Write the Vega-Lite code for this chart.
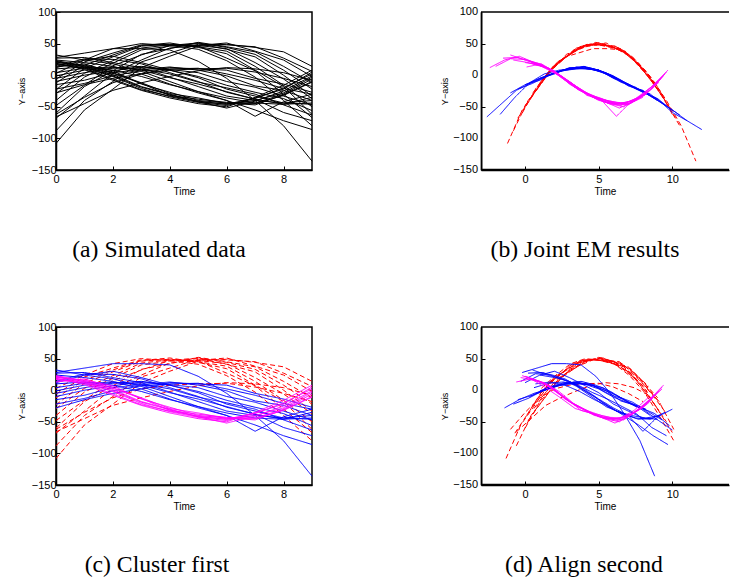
{
"$schema": "https://vega.github.io/schema/vega-lite/v6.json",
"background": "white",
"padding": {"left": 16, "top": 5, "right": 0, "bottom": 0},
"bounds": "flush",
"spacing": 425,
"resolve": {"scale": {"x": "independent", "y": "independent", "color": "independent", "strokeDash": "independent"}},
"config": {
  "view": {"stroke": "black", "strokeWidth": 1.5},
  "axis": {"grid": false, "domain": true, "domainColor": "black", "domainWidth": 1.5, "tickColor": "black", "tickSize": -4, "tickWidth": 1,
    "labelFont": "Liberation Sans", "labelFontSize": 11, "labelColor": "black", "labelPadding": 4,
    "labelFlush": false, "labelOverlap": false, "labelBound": false,
    "titleFont": "Liberation Sans", "titleFontSize": 10, "titleFontWeight": "normal", "titleColor": "black"},
  "axisX": {"titlePadding": 2, "labelPadding": 7},
  "axisY": {"titlePadding": 5, "titleFontSize": 9},
  "title": {"font": "Liberation Serif", "fontSize": 23.7, "fontWeight": "normal", "color": "black", "orient": "bottom", "frame": "group", "anchor": "middle", "offset": 42}
},
"datasets": {
"ylabels": [
{"v":100,"lab":"100"},{"v":50,"lab":"50"},{"v":0,"lab":"0"},{"v":-50,"lab":"−50"},{"v":-100,"lab":"−100"},{"v":-150,"lab":"−150"}
],
"curves": [
{"c":"r1","kc":"r","kb":"r","kd":"r"},{"c":"r2","kc":"r","kb":"r","kd":"r"},{"c":"r3","kc":"r","kb":"r","kd":"r"},{"c":"r4","kc":"r","kb":"r","kd":"r"},{"c":"r5","kc":"r","kb":"r","kd":"r"},{"c":"r6","kc":"r","kb":"r","kd":"r"},{"c":"r7","kc":"r","kb":"r","kd":"r"},{"c":"r8","kc":"r","kb":"r","kd":"r"},{"c":"r9","kc":"r","kb":"r","kd":"r"},{"c":"r10","kc":"r","kb":"r","kd":"r"},{"c":"r11","kc":"r","kb":"r","kd":"r"},
{"c":"x1","kc":"r","kb":"b","kd":"r"},{"c":"x2","kc":"r","kb":"b","kd":"r"},{"c":"r12","kc":"b","kb":"r","kd":"b"},
{"c":"b1","kc":"b","kb":"b","kd":"b"},{"c":"b2","kc":"b","kb":"b","kd":"b"},{"c":"b3","kc":"b","kb":"b","kd":"b"},{"c":"b4","kc":"b","kb":"b","kd":"b"},{"c":"b5","kc":"b","kb":"b","kd":"b"},{"c":"b6","kc":"b","kb":"b","kd":"b"},{"c":"b7","kc":"b","kb":"b","kd":"b"},{"c":"b8","kc":"b","kb":"b","kd":"b"},
{"c":"u1","kc":"b","kb":"m","kd":"b"},{"c":"u2","kc":"b","kb":"m","kd":"b"},{"c":"u3","kc":"b","kb":"m","kd":"b"},{"c":"u4","kc":"b","kb":"m","kd":"b"},{"c":"nb","kc":"b","kb":"m","kd":"b"},
{"c":"m1","kc":"m","kb":"m","kd":"m"},{"c":"m2","kc":"m","kb":"m","kd":"m"},{"c":"m3","kc":"m","kb":"m","kd":"m"},{"c":"m4","kc":"m","kb":"m","kd":"m"},{"c":"m5","kc":"m","kb":"m","kd":"m"},{"c":"m6","kc":"m","kb":"m","kd":"m"},{"c":"m7","kc":"m","kb":"m","kd":"m"},{"c":"m8","kc":"m","kb":"m","kd":"m"}
],
"pts": [
{"c":"r1","t":0,"y":-108,"xb":-1.2,"xd":-1.3},{"c":"r1","t":1,"y":-55,"xb":-0.2,"xd":-0.3},{"c":"r1","t":2,"y":-22,"xb":0.8,"xd":0.7},{"c":"r1","t":3,"y":12,"xb":1.8,"xd":1.7},{"c":"r1","t":4,"y":30,"xb":2.8,"xd":2.7},{"c":"r1","t":5,"y":46,"xb":3.8,"xd":3.7},{"c":"r1","t":6,"y":49,"xb":4.8,"xd":4.7},{"c":"r1","t":7,"y":44,"xb":5.8,"xd":5.7},{"c":"r1","t":8,"y":37,"xb":6.8,"xd":6.7},{"c":"r1","t":9,"y":14,"xb":7.8,"xd":7.7},
{"c":"r2","t":0,"y":-88,"xb":-0.8,"xd":-0.6},{"c":"r2","t":1,"y":-40,"xb":0.2,"xd":0.4},{"c":"r2","t":2,"y":-10,"xb":1.2,"xd":1.4},{"c":"r2","t":3,"y":21,"xb":2.2,"xd":2.4},{"c":"r2","t":4,"y":35,"xb":3.2,"xd":3.4},{"c":"r2","t":5,"y":49,"xb":4.2,"xd":4.4},{"c":"r2","t":6,"y":48,"xb":5.2,"xd":5.4},{"c":"r2","t":7,"y":45,"xb":6.2,"xd":6.4},{"c":"r2","t":8,"y":27,"xb":7.2,"xd":7.4},{"c":"r2","t":9,"y":6,"xb":8.2,"xd":8.4},
{"c":"r3","t":0,"y":-68,"xb":-0.5,"xd":-0.7},{"c":"r3","t":1,"y":-33,"xb":0.5,"xd":0.3},{"c":"r3","t":2,"y":3,"xb":1.5,"xd":1.3},{"c":"r3","t":3,"y":24,"xb":2.5,"xd":2.3},{"c":"r3","t":4,"y":43,"xb":3.5,"xd":3.3},{"c":"r3","t":5,"y":47,"xb":4.5,"xd":4.3},{"c":"r3","t":6,"y":51,"xb":5.5,"xd":5.3},{"c":"r3","t":7,"y":38,"xb":6.5,"xd":6.3},{"c":"r3","t":8,"y":24,"xb":7.5,"xd":7.3},{"c":"r3","t":9,"y":-2,"xb":8.5,"xd":8.3},
{"c":"r4","t":0,"y":-60,"xb":-0.2,"xd":0},{"c":"r4","t":1,"y":-18,"xb":0.8,"xd":1},{"c":"r4","t":2,"y":7,"xb":1.8,"xd":2},{"c":"r4","t":3,"y":33,"xb":2.8,"xd":3},{"c":"r4","t":4,"y":42,"xb":3.8,"xd":4},{"c":"r4","t":5,"y":52,"xb":4.8,"xd":5},{"c":"r4","t":6,"y":45,"xb":5.8,"xd":6},{"c":"r4","t":7,"y":37,"xb":6.8,"xd":7},{"c":"r4","t":8,"y":14,"xb":7.8,"xd":8},{"c":"r4","t":9,"y":-12,"xb":8.8,"xd":9},
{"c":"r5","t":0,"y":-48,"xb":0,"xd":0.2},{"c":"r5","t":1,"y":-16,"xb":1,"xd":1.2},{"c":"r5","t":2,"y":15,"xb":2,"xd":2.2},{"c":"r5","t":3,"y":32,"xb":3,"xd":3.2},{"c":"r5","t":4,"y":47,"xb":4,"xd":4.2},{"c":"r5","t":5,"y":51,"xb":5,"xd":5.2},{"c":"r5","t":6,"y":44,"xb":6,"xd":6.2},{"c":"r5","t":7,"y":33,"xb":7,"xd":7.2},{"c":"r5","t":8,"y":8,"xb":8,"xd":8.2},{"c":"r5","t":9,"y":-22,"xb":9,"xd":9.2},
{"c":"r6","t":0,"y":-40,"xb":0.3,"xd":0.1},{"c":"r6","t":1,"y":-3,"xb":1.3,"xd":1.1},{"c":"r6","t":2,"y":19,"xb":2.3,"xd":2.1},{"c":"r6","t":3,"y":40,"xb":3.3,"xd":3.1},{"c":"r6","t":4,"y":46,"xb":4.3,"xd":4.1},{"c":"r6","t":5,"y":50,"xb":5.3,"xd":5.1},{"c":"r6","t":6,"y":41,"xb":6.3,"xd":6.1},{"c":"r6","t":7,"y":29,"xb":7.3,"xd":7.1},{"c":"r6","t":8,"y":0,"xb":8.3,"xd":8.1},{"c":"r6","t":9,"y":-33,"xb":9.3,"xd":9.1},
{"c":"r7","t":0,"y":-29,"xb":0.5,"xd":0.6},{"c":"r7","t":1,"y":3,"xb":1.5,"xd":1.6},{"c":"r7","t":2,"y":23,"xb":2.5,"xd":2.6},{"c":"r7","t":3,"y":43,"xb":3.5,"xd":3.6},{"c":"r7","t":4,"y":48,"xb":4.5,"xd":4.6},{"c":"r7","t":5,"y":47,"xb":5.5,"xd":5.6},{"c":"r7","t":6,"y":42,"xb":6.5,"xd":6.6},{"c":"r7","t":7,"y":20,"xb":7.5,"xd":7.6},{"c":"r7","t":8,"y":-6,"xb":8.5,"xd":8.6},{"c":"r7","t":9,"y":-37,"xb":9.5,"xd":9.6},
{"c":"r8","t":0,"y":-23,"xb":0.8,"xd":0.6},{"c":"r8","t":1,"y":11,"xb":1.8,"xd":1.6},{"c":"r8","t":2,"y":29,"xb":2.8,"xd":2.6},{"c":"r8","t":3,"y":46,"xb":3.8,"xd":3.6},{"c":"r8","t":4,"y":49,"xb":4.8,"xd":4.6},{"c":"r8","t":5,"y":45,"xb":5.8,"xd":5.6},{"c":"r8","t":6,"y":38,"xb":6.8,"xd":6.6},{"c":"r8","t":7,"y":14,"xb":7.8,"xd":7.6},{"c":"r8","t":8,"y":-16,"xb":8.8,"xd":8.6},{"c":"r8","t":9,"y":-50,"xb":9.8,"xd":9.6},
{"c":"r9","t":0,"y":-12,"xb":1,"xd":1.1},{"c":"r9","t":1,"y":16,"xb":2,"xd":2.1},{"c":"r9","t":2,"y":32,"xb":3,"xd":3.1},{"c":"r9","t":3,"y":47,"xb":4,"xd":4.1},{"c":"r9","t":4,"y":51,"xb":5,"xd":5.1},{"c":"r9","t":5,"y":44,"xb":6,"xd":6.1},{"c":"r9","t":6,"y":34,"xb":7,"xd":7.1},{"c":"r9","t":7,"y":8,"xb":8,"xd":8.1},{"c":"r9","t":8,"y":-18,"xb":9,"xd":9.1},{"c":"r9","t":9,"y":-62,"xb":10,"xd":10.1},
{"c":"r10","t":0,"y":-6,"xb":1.2,"xd":1},{"c":"r10","t":1,"y":21,"xb":2.2,"xd":2},{"c":"r10","t":2,"y":35,"xb":3.2,"xd":3},{"c":"r10","t":3,"y":48,"xb":4.2,"xd":4},{"c":"r10","t":4,"y":48,"xb":5.2,"xd":5},{"c":"r10","t":5,"y":46,"xb":6.2,"xd":6},{"c":"r10","t":6,"y":27,"xb":7.2,"xd":7},{"c":"r10","t":7,"y":7,"xb":8.2,"xd":8},{"c":"r10","t":8,"y":-30,"xb":9.2,"xd":9},{"c":"r10","t":9,"y":-67,"xb":10.2,"xd":10},
{"c":"r11","t":0,"y":3,"xb":1.5,"xd":1.1},{"c":"r11","t":1,"y":24,"xb":2.5,"xd":2.1},{"c":"r11","t":2,"y":42,"xb":3.5,"xd":3.1},{"c":"r11","t":3,"y":50,"xb":4.5,"xd":4.1},{"c":"r11","t":4,"y":47,"xb":5.5,"xd":5.1},{"c":"r11","t":5,"y":41,"xb":6.5,"xd":6.1},{"c":"r11","t":6,"y":23,"xb":7.5,"xd":7.1},{"c":"r11","t":7,"y":-3,"xb":8.5,"xd":8.1},{"c":"r11","t":8,"y":-40,"xb":9.5,"xd":9.1},{"c":"r11","t":9,"y":-80,"xb":10.5,"xd":10.1},
{"c":"x1","t":0,"y":-62,"xb":-1.7,"xd":-1},{"c":"x1","t":1,"y":-35,"xb":-0.7,"xd":0},{"c":"x1","t":2,"y":-12,"xb":0.3,"xd":1},{"c":"x1","t":3,"y":2,"xb":1.3,"xd":2},{"c":"x1","t":4,"y":8,"xb":2.3,"xd":3},{"c":"x1","t":5,"y":10,"xb":3.3,"xd":4},{"c":"x1","t":6,"y":11,"xb":4.3,"xd":5},{"c":"x1","t":7,"y":5,"xb":5.3,"xd":6},{"c":"x1","t":8,"y":-5,"xb":6.3,"xd":7},{"c":"x1","t":9,"y":-18,"xb":7.3,"xd":8},
{"c":"x2","t":0,"y":-66,"xb":-2.6,"xd":-0.6},{"c":"x2","t":1,"y":-45,"xb":-1.6,"xd":0.4},{"c":"x2","t":2,"y":-24,"xb":-0.6,"xd":1.4},{"c":"x2","t":3,"y":-12,"xb":0.4,"xd":2.4},{"c":"x2","t":4,"y":-2,"xb":1.4,"xd":3.4},{"c":"x2","t":5,"y":7,"xb":2.4,"xd":4.4},{"c":"x2","t":6,"y":12,"xb":3.4,"xd":5.4},{"c":"x2","t":7,"y":10,"xb":4.4,"xd":6.4},{"c":"x2","t":8,"y":4,"xb":5.4,"xd":7.4},{"c":"x2","t":9,"y":-8,"xb":6.4,"xd":8.4},
{"c":"r12","t":0,"y":28,"xb":2.6,"xd":-0.2},{"c":"r12","t":1,"y":35,"xb":3.6,"xd":0.8},{"c":"r12","t":2,"y":42,"xb":4.6,"xd":1.8},{"c":"r12","t":3,"y":42,"xb":5.6,"xd":2.8},{"c":"r12","t":4,"y":40,"xb":6.6,"xd":3.8},{"c":"r12","t":5,"y":22,"xb":7.6,"xd":4.8},{"c":"r12","t":6,"y":-5,"xb":8.6,"xd":5.8},{"c":"r12","t":7,"y":-40,"xb":9.6,"xd":6.8},{"c":"r12","t":8,"y":-80,"xb":10.6,"xd":7.8},{"c":"r12","t":9,"y":-136,"xb":11.6,"xd":8.8},
{"c":"b1","t":0,"y":-28,"xb":-1,"xd":-1.4},{"c":"b1","t":1,"y":-15,"xb":0,"xd":-0.4},{"c":"b1","t":2,"y":-5,"xb":1,"xd":0.6},{"c":"b1","t":3,"y":2,"xb":2,"xd":1.6},{"c":"b1","t":4,"y":12,"xb":3,"xd":2.6},{"c":"b1","t":5,"y":10,"xb":4,"xd":3.6},{"c":"b1","t":6,"y":8,"xb":5,"xd":4.6},{"c":"b1","t":7,"y":-5,"xb":6,"xd":5.6},{"c":"b1","t":8,"y":-14,"xb":7,"xd":6.6},{"c":"b1","t":9,"y":-27,"xb":8,"xd":7.6},
{"c":"b2","t":0,"y":-15,"xb":0,"xd":-0.5},{"c":"b2","t":1,"y":-8,"xb":1,"xd":0.5},{"c":"b2","t":2,"y":4,"xb":2,"xd":1.5},{"c":"b2","t":3,"y":9,"xb":3,"xd":2.5},{"c":"b2","t":4,"y":13,"xb":4,"xd":3.5},{"c":"b2","t":5,"y":8,"xb":5,"xd":4.5},{"c":"b2","t":6,"y":-1,"xb":6,"xd":5.5},{"c":"b2","t":7,"y":-17,"xb":7,"xd":6.5},{"c":"b2","t":8,"y":-24,"xb":8,"xd":7.5},{"c":"b2","t":9,"y":-40,"xb":9,"xd":8.5},
{"c":"b3","t":0,"y":-10,"xb":0.5,"xd":0.3},{"c":"b3","t":1,"y":0,"xb":1.5,"xd":1.3},{"c":"b3","t":2,"y":7,"xb":2.5,"xd":2.3},{"c":"b3","t":3,"y":13,"xb":3.5,"xd":3.3},{"c":"b3","t":4,"y":9,"xb":4.5,"xd":4.3},{"c":"b3","t":5,"y":4,"xb":5.5,"xd":5.3},{"c":"b3","t":6,"y":-10,"xb":6.5,"xd":6.3},{"c":"b3","t":7,"y":-19,"xb":7.5,"xd":7.3},{"c":"b3","t":8,"y":-33,"xb":8.5,"xd":8.3},{"c":"b3","t":9,"y":-47,"xb":9.5,"xd":9.3},
{"c":"b4","t":0,"y":-5,"xb":1,"xd":0.8},{"c":"b4","t":1,"y":4,"xb":2,"xd":1.8},{"c":"b4","t":2,"y":11,"xb":3,"xd":2.8},{"c":"b4","t":3,"y":14,"xb":4,"xd":3.8},{"c":"b4","t":4,"y":8,"xb":5,"xd":4.8},{"c":"b4","t":5,"y":-2,"xb":6,"xd":5.8},{"c":"b4","t":6,"y":-16,"xb":7,"xd":6.8},{"c":"b4","t":7,"y":-27,"xb":8,"xd":7.8},{"c":"b4","t":8,"y":-37,"xb":9,"xd":8.8},{"c":"b4","t":9,"y":-56,"xb":10,"xd":9.8},
{"c":"b5","t":0,"y":-1,"xb":1.5,"xd":1},{"c":"b5","t":1,"y":8,"xb":2.5,"xd":2},{"c":"b5","t":2,"y":12,"xb":3.5,"xd":3},{"c":"b5","t":3,"y":10,"xb":4.5,"xd":4},{"c":"b5","t":4,"y":2,"xb":5.5,"xd":5},{"c":"b5","t":5,"y":-11,"xb":6.5,"xd":6},{"c":"b5","t":6,"y":-20,"xb":7.5,"xd":7},{"c":"b5","t":7,"y":-30,"xb":8.5,"xd":8},{"c":"b5","t":8,"y":-47,"xb":9.5,"xd":9},{"c":"b5","t":9,"y":-63,"xb":10.5,"xd":10},
{"c":"b6","t":0,"y":4,"xb":2,"xd":0.6},{"c":"b6","t":1,"y":11,"xb":3,"xd":1.6},{"c":"b6","t":2,"y":13,"xb":4,"xd":2.6},{"c":"b6","t":3,"y":8,"xb":5,"xd":3.6},{"c":"b6","t":4,"y":-4,"xb":6,"xd":4.6},{"c":"b6","t":5,"y":-14,"xb":7,"xd":5.6},{"c":"b6","t":6,"y":-26,"xb":8,"xd":6.6},{"c":"b6","t":7,"y":-38,"xb":9,"xd":7.6},{"c":"b6","t":8,"y":-59,"xb":10,"xd":8.6},{"c":"b6","t":9,"y":-72,"xb":11,"xd":9.6},
{"c":"b7","t":0,"y":10,"xb":3,"xd":0.7},{"c":"b7","t":1,"y":13,"xb":4,"xd":1.7},{"c":"b7","t":2,"y":8,"xb":5,"xd":2.7},{"c":"b7","t":3,"y":-2,"xb":6,"xd":3.7},{"c":"b7","t":4,"y":-15,"xb":7,"xd":4.7},{"c":"b7","t":5,"y":-26,"xb":8,"xd":5.7},{"c":"b7","t":6,"y":-40,"xb":9,"xd":6.7},{"c":"b7","t":7,"y":-55,"xb":10,"xd":7.7},{"c":"b7","t":8,"y":-72,"xb":11,"xd":8.7},{"c":"b7","t":9,"y":-86,"xb":12,"xd":9.7},
{"c":"b8","t":0,"y":-22,"xb":-0.5,"xd":-0.8},{"c":"b8","t":1,"y":-13,"xb":0.5,"xd":0.2},{"c":"b8","t":2,"y":-1,"xb":1.5,"xd":1.2},{"c":"b8","t":3,"y":7,"xb":2.5,"xd":2.2},{"c":"b8","t":4,"y":10,"xb":3.5,"xd":3.2},{"c":"b8","t":5,"y":11,"xb":4.5,"xd":4.2},{"c":"b8","t":6,"y":2,"xb":5.5,"xd":5.2},{"c":"b8","t":7,"y":-8,"xb":6.5,"xd":6.2},{"c":"b8","t":8,"y":-21,"xb":7.5,"xd":7.2},{"c":"b8","t":9,"y":-30,"xb":8.5,"xd":8.2},
{"c":"u1","t":0,"y":12,"xb":-2.4,"xd":0},{"c":"u1","t":1,"y":24,"xb":-1.4,"xd":1},{"c":"u1","t":2,"y":30,"xb":-0.4,"xd":2},{"c":"u1","t":3,"y":20,"xb":0.6,"xd":3},{"c":"u1","t":4,"y":8,"xb":1.6,"xd":4},{"c":"u1","t":5,"y":-4,"xb":2.6,"xd":5},{"c":"u1","t":6,"y":-22,"xb":3.6,"xd":6},{"c":"u1","t":7,"y":-33,"xb":4.6,"xd":7},{"c":"u1","t":8,"y":-44,"xb":5.6,"xd":8},{"c":"u1","t":9,"y":-46,"xb":6.6,"xd":9},
{"c":"u2","t":0,"y":32,"xb":-1,"xd":0.5},{"c":"u2","t":1,"y":24,"xb":0,"xd":1.5},{"c":"u2","t":2,"y":18,"xb":1,"xd":2.5},{"c":"u2","t":3,"y":6,"xb":2,"xd":3.5},{"c":"u2","t":4,"y":-10,"xb":3,"xd":4.5},{"c":"u2","t":5,"y":-26,"xb":4,"xd":5.5},{"c":"u2","t":6,"y":-36,"xb":5,"xd":6.5},{"c":"u2","t":7,"y":-44,"xb":6,"xd":7.5},{"c":"u2","t":8,"y":-46,"xb":7,"xd":8.5},{"c":"u2","t":9,"y":-35,"xb":8,"xd":9.5},
{"c":"u3","t":0,"y":27,"xb":-1.5,"xd":0.2},{"c":"u3","t":1,"y":28,"xb":-0.5,"xd":1.2},{"c":"u3","t":2,"y":20,"xb":0.5,"xd":2.2},{"c":"u3","t":3,"y":12,"xb":1.5,"xd":3.2},{"c":"u3","t":4,"y":-3,"xb":2.5,"xd":4.2},{"c":"u3","t":5,"y":-18,"xb":3.5,"xd":5.2},{"c":"u3","t":6,"y":-33,"xb":4.5,"xd":6.2},{"c":"u3","t":7,"y":-40,"xb":5.5,"xd":7.2},{"c":"u3","t":8,"y":-44,"xb":6.5,"xd":8.2},{"c":"u3","t":9,"y":-40,"xb":7.5,"xd":9.2},
{"c":"u4","t":0,"y":14,"xb":-2,"xd":-0.3},{"c":"u4","t":1,"y":26,"xb":-1,"xd":0.7},{"c":"u4","t":2,"y":25,"xb":0,"xd":1.7},{"c":"u4","t":3,"y":18,"xb":1,"xd":2.7},{"c":"u4","t":4,"y":4,"xb":2,"xd":3.7},{"c":"u4","t":5,"y":-10,"xb":3,"xd":4.7},{"c":"u4","t":6,"y":-27,"xb":4,"xd":5.7},{"c":"u4","t":7,"y":-38,"xb":5,"xd":6.7},{"c":"u4","t":8,"y":-46,"xb":6,"xd":7.7},{"c":"u4","t":9,"y":-44,"xb":7,"xd":8.7},
{"c":"nb","t":0,"y":24,"xb":-0.8,"xd":1},{"c":"nb","t":1,"y":20,"xb":0.2,"xd":2},{"c":"nb","t":2,"y":14,"xb":1.2,"xd":3},{"c":"nb","t":3,"y":2,"xb":2.2,"xd":4},{"c":"nb","t":4,"y":-14,"xb":3.2,"xd":5},{"c":"nb","t":5,"y":-28,"xb":4.2,"xd":6},{"c":"nb","t":6,"y":-40,"xb":5.2,"xd":7},{"c":"nb","t":7,"y":-65,"xb":6.2,"xd":8},{"c":"nb","t":8,"y":-42,"xb":7.2,"xd":9},{"c":"nb","t":9,"y":-30,"xb":8.2,"xd":10},
{"c":"m1","t":0,"y":20,"xb":0,"xd":-0.3},{"c":"m1","t":1,"y":16,"xb":1,"xd":0.7},{"c":"m1","t":2,"y":7,"xb":2,"xd":1.7},{"c":"m1","t":3,"y":-14,"xb":3,"xd":2.7},{"c":"m1","t":4,"y":-27,"xb":4,"xd":3.7},{"c":"m1","t":5,"y":-40,"xb":5,"xd":4.7},{"c":"m1","t":6,"y":-44,"xb":6,"xd":5.7},{"c":"m1","t":7,"y":-47,"xb":7,"xd":6.7},{"c":"m1","t":8,"y":-31,"xb":8,"xd":7.7},{"c":"m1","t":9,"y":-10,"xb":9,"xd":8.7},
{"c":"m2","t":0,"y":22,"xb":0.3,"xd":0},{"c":"m2","t":1,"y":14,"xb":1.3,"xd":1},{"c":"m2","t":2,"y":1,"xb":2.3,"xd":2},{"c":"m2","t":3,"y":-18,"xb":3.3,"xd":3},{"c":"m2","t":4,"y":-30,"xb":4.3,"xd":4},{"c":"m2","t":5,"y":-42,"xb":5.3,"xd":5},{"c":"m2","t":6,"y":-46,"xb":6.3,"xd":6},{"c":"m2","t":7,"y":-40,"xb":7.3,"xd":7},{"c":"m2","t":8,"y":-28,"xb":8.3,"xd":8},{"c":"m2","t":9,"y":-3,"xb":9.3,"xd":9},
{"c":"m3","t":0,"y":18,"xb":0.5,"xd":0.3},{"c":"m3","t":1,"y":12,"xb":1.5,"xd":1.3},{"c":"m3","t":2,"y":-2,"xb":2.5,"xd":2.3},{"c":"m3","t":3,"y":-21,"xb":3.5,"xd":3.3},{"c":"m3","t":4,"y":-34,"xb":4.5,"xd":4.3},{"c":"m3","t":5,"y":-43,"xb":5.5,"xd":5.3},{"c":"m3","t":6,"y":-48,"xb":6.5,"xd":6.3},{"c":"m3","t":7,"y":-37,"xb":7.5,"xd":7.3},{"c":"m3","t":8,"y":-20,"xb":8.5,"xd":8.3},{"c":"m3","t":9,"y":2,"xb":9.5,"xd":9.3},
{"c":"m4","t":0,"y":19,"xb":0.7,"xd":0.4},{"c":"m4","t":1,"y":9,"xb":1.7,"xd":1.4},{"c":"m4","t":2,"y":-8,"xb":2.7,"xd":2.4},{"c":"m4","t":3,"y":-24,"xb":3.7,"xd":3.4},{"c":"m4","t":4,"y":-36,"xb":4.7,"xd":4.4},{"c":"m4","t":5,"y":-45,"xb":5.7,"xd":5.4},{"c":"m4","t":6,"y":-50,"xb":6.7,"xd":6.4},{"c":"m4","t":7,"y":-35,"xb":7.7,"xd":7.4},{"c":"m4","t":8,"y":-16,"xb":8.7,"xd":8.4},{"c":"m4","t":9,"y":8,"xb":9.7,"xd":9.4},
{"c":"m5","t":0,"y":23,"xb":0.2,"xd":-0.2},{"c":"m5","t":1,"y":15,"xb":1.2,"xd":0.8},{"c":"m5","t":2,"y":3,"xb":2.2,"xd":1.8},{"c":"m5","t":3,"y":-13,"xb":3.2,"xd":2.8},{"c":"m5","t":4,"y":-32,"xb":4.2,"xd":3.8},{"c":"m5","t":5,"y":-38,"xb":5.2,"xd":4.8},{"c":"m5","t":6,"y":-43,"xb":6.2,"xd":5.8},{"c":"m5","t":7,"y":-44,"xb":7.2,"xd":6.8},{"c":"m5","t":8,"y":-30,"xb":8.2,"xd":7.8},{"c":"m5","t":9,"y":-6,"xb":9.2,"xd":8.8},
{"c":"m6","t":0,"y":21,"xb":0.4,"xd":0.1},{"c":"m6","t":1,"y":13,"xb":1.4,"xd":1.1},{"c":"m6","t":2,"y":-1,"xb":2.4,"xd":2.1},{"c":"m6","t":3,"y":-19,"xb":3.4,"xd":3.1},{"c":"m6","t":4,"y":-31,"xb":4.4,"xd":4.1},{"c":"m6","t":5,"y":-42,"xb":5.4,"xd":5.1},{"c":"m6","t":6,"y":-52,"xb":6.4,"xd":6.1},{"c":"m6","t":7,"y":-41,"xb":7.4,"xd":7.1},{"c":"m6","t":8,"y":-25,"xb":8.4,"xd":8.1},{"c":"m6","t":9,"y":-1,"xb":9.4,"xd":9.1},
{"c":"m7","t":0,"y":17,"xb":0.6,"xd":0.3},{"c":"m7","t":1,"y":11,"xb":1.6,"xd":1.3},{"c":"m7","t":2,"y":-6,"xb":2.6,"xd":2.3},{"c":"m7","t":3,"y":-23,"xb":3.6,"xd":3.3},{"c":"m7","t":4,"y":-33,"xb":4.6,"xd":4.3},{"c":"m7","t":5,"y":-41,"xb":5.6,"xd":5.3},{"c":"m7","t":6,"y":-46,"xb":6.6,"xd":6.3},{"c":"m7","t":7,"y":-36,"xb":7.6,"xd":7.3},{"c":"m7","t":8,"y":-22,"xb":8.6,"xd":8.3},{"c":"m7","t":9,"y":5,"xb":9.6,"xd":9.3},
{"c":"m8","t":0,"y":13,"xb":0.1,"xd":-0.6},{"c":"m8","t":1,"y":18,"xb":1.1,"xd":0.4},{"c":"m8","t":2,"y":4,"xb":2.1,"xd":1.4},{"c":"m8","t":3,"y":-12,"xb":3.1,"xd":2.4},{"c":"m8","t":4,"y":-29,"xb":4.1,"xd":3.4},{"c":"m8","t":5,"y":-36,"xb":5.1,"xd":4.4},{"c":"m8","t":6,"y":-45,"xb":6.1,"xd":5.4},{"c":"m8","t":7,"y":-45,"xb":7.1,"xd":6.4},{"c":"m8","t":8,"y":-32,"xb":8.1,"xd":7.4},{"c":"m8","t":9,"y":-11,"xb":9.1,"xd":8.4}
]
},
"hconcat": [
{
 "vconcat": [
  {
    "width": 256, "height": 158,
    "title": {"text": "(a) Simulated data", "dx": -25},
    "data": {"name": "pts"},
    "mark": {"type": "line", "strokeWidth": 1, "color": "black"},
    "encoding": {
      "x": {"field": "t", "type": "quantitative", "scale": {"domain": [0, 9], "nice": false, "zero": false}, "axis": {"values": [0, 2, 4, 6, 8], "title": "Time"}},
      "y": {"field": "y", "type": "quantitative", "scale": {"domain": [-150, 100], "nice": false}, "axis": {"values": [-150, -100, -50, 0, 50, 100], "title": "Y−axis"}},
      "detail": {"field": "c"},
      "order": {"field": "t"}
    }
  },
  {
    "width": 256, "height": 158,
    "title": {"text": "(c) Cluster first", "dx": -27},
    "data": {"name": "pts"},
    "transform": [{"lookup": "c", "from": {"data": {"name": "curves"}, "key": "c", "fields": ["kc"]}}],
    "mark": {"type": "line", "strokeWidth": 1},
    "encoding": {
      "x": {"field": "t", "type": "quantitative", "scale": {"domain": [0, 9], "nice": false, "zero": false}, "axis": {"values": [0, 2, 4, 6, 8], "title": "Time"}},
      "y": {"field": "y", "type": "quantitative", "scale": {"domain": [-150, 100], "nice": false}, "axis": {"values": [-150, -100, -50, 0, 50, 100], "title": "Y−axis"}},
      "color": {"field": "kc", "type": "nominal", "scale": {"domain": ["r", "b", "m"], "range": ["#ff0000", "#0000ff", "#ff00ff"]}, "legend": null},
      "strokeDash": {"field": "kc", "type": "nominal", "scale": {"domain": ["r", "b", "m"], "range": [[5, 3], [1, 0], [1, 0]]}, "legend": null},
      "detail": {"field": "c"},
      "order": {"field": "t"}
    }
  }
 ],
 "spacing": 157,
 "bounds": "flush",
 "resolve": {"scale": {"x": "independent", "y": "independent", "color": "independent", "strokeDash": "independent"}}
},
{
 "vconcat": [
  {
    "width": 248, "height": 158,
    "title": {"text": "(b) Joint EM results", "dx": -20},
    "view": {"stroke": null},
    "layer": [
      {
        "data": {"name": "pts"},
        "transform": [{"lookup": "c", "from": {"data": {"name": "curves"}, "key": "c", "fields": ["kb"]}}],
        "mark": {"type": "line", "strokeWidth": 1},
        "encoding": {
          "x": {"field": "xb", "type": "quantitative", "scale": {"domain": [-3, 13.85], "nice": false, "zero": false}, "axis": {"values": [0, 5, 10], "title": "Time", "domain": true}},
          "y": {"field": "y", "type": "quantitative", "scale": {"domain": [-150, 100], "nice": false}, "axis": {"values": [-150, -100, -50, 0, 50, 100], "title": "Y−axis", "labels": false, "domain": true, "titlePadding": 31}},
          "color": {"field": "kb", "type": "nominal", "scale": {"domain": ["r", "b", "m"], "range": ["#ff0000", "#0000ff", "#ff00ff"]}, "legend": null},
          "strokeDash": {"field": "kb", "type": "nominal", "scale": {"domain": ["r", "b", "m"], "range": [[5, 3], [1, 0], [1, 0]]}, "legend": null},
          "detail": {"field": "c"},
          "order": {"field": "t"}
        }
      },
      {
        "data": {"name": "ylabels"},
        "mark": {"type": "text", "align": "right", "baseline": "middle", "dx": -3, "font": "Liberation Sans", "fontSize": 11, "color": "black"},
        "encoding": {
          "x": {"datum": -3, "type": "quantitative"},
          "y": {"field": "v", "type": "quantitative"},
          "text": {"field": "lab", "type": "nominal"}
        }
      },
      {
        "data": {"values": [{}]},
        "mark": {"type": "rule", "color": "black", "strokeWidth": 1.5},
        "encoding": {"x": {"datum": -2.96, "type": "quantitative"}}
      },
      {
        "data": {"values": [{}]},
        "mark": {"type": "rule", "color": "black", "strokeWidth": 1.5},
        "encoding": {"y": {"datum": -149.2, "type": "quantitative"}}
      },
      {
        "data": {"values": [{}]},
        "mark": {"type": "rule", "color": "black", "strokeWidth": 1.5},
        "encoding": {"y": {"datum": 100, "type": "quantitative"}}
      }
    ]
  },
  {
    "width": 248, "height": 158,
    "title": {"text": "(d) Align second", "dx": -21},
    "view": {"stroke": null},
    "layer": [
      {
        "data": {"name": "pts"},
        "transform": [{"lookup": "c", "from": {"data": {"name": "curves"}, "key": "c", "fields": ["kd"]}}],
        "mark": {"type": "line", "strokeWidth": 1},
        "encoding": {
          "x": {"field": "xd", "type": "quantitative", "scale": {"domain": [-3, 13.85], "nice": false, "zero": false}, "axis": {"values": [0, 5, 10], "title": "Time", "domain": true}},
          "y": {"field": "y", "type": "quantitative", "scale": {"domain": [-150, 100], "nice": false}, "axis": {"values": [-150, -100, -50, 0, 50, 100], "title": "Y−axis", "labels": false, "domain": true, "titlePadding": 31}},
          "color": {"field": "kd", "type": "nominal", "scale": {"domain": ["r", "b", "m"], "range": ["#ff0000", "#0000ff", "#ff00ff"]}, "legend": null},
          "strokeDash": {"field": "kd", "type": "nominal", "scale": {"domain": ["r", "b", "m"], "range": [[5, 3], [1, 0], [1, 0]]}, "legend": null},
          "detail": {"field": "c"},
          "order": {"field": "t"}
        }
      },
      {
        "data": {"name": "ylabels"},
        "mark": {"type": "text", "align": "right", "baseline": "middle", "dx": -3, "font": "Liberation Sans", "fontSize": 11, "color": "black"},
        "encoding": {
          "x": {"datum": -3, "type": "quantitative"},
          "y": {"field": "v", "type": "quantitative"},
          "text": {"field": "lab", "type": "nominal"}
        }
      },
      {
        "data": {"values": [{}]},
        "mark": {"type": "rule", "color": "black", "strokeWidth": 1.5},
        "encoding": {"x": {"datum": -2.96, "type": "quantitative"}}
      },
      {
        "data": {"values": [{}]},
        "mark": {"type": "rule", "color": "black", "strokeWidth": 1.5},
        "encoding": {"y": {"datum": -149.2, "type": "quantitative"}}
      },
      {
        "data": {"values": [{}]},
        "mark": {"type": "rule", "color": "black", "strokeWidth": 1.5},
        "encoding": {"y": {"datum": 100, "type": "quantitative"}}
      }
    ]
  }
 ],
 "spacing": 157,
 "bounds": "flush",
 "resolve": {"scale": {"x": "independent", "y": "independent", "color": "independent", "strokeDash": "independent"}}
}
]
}
